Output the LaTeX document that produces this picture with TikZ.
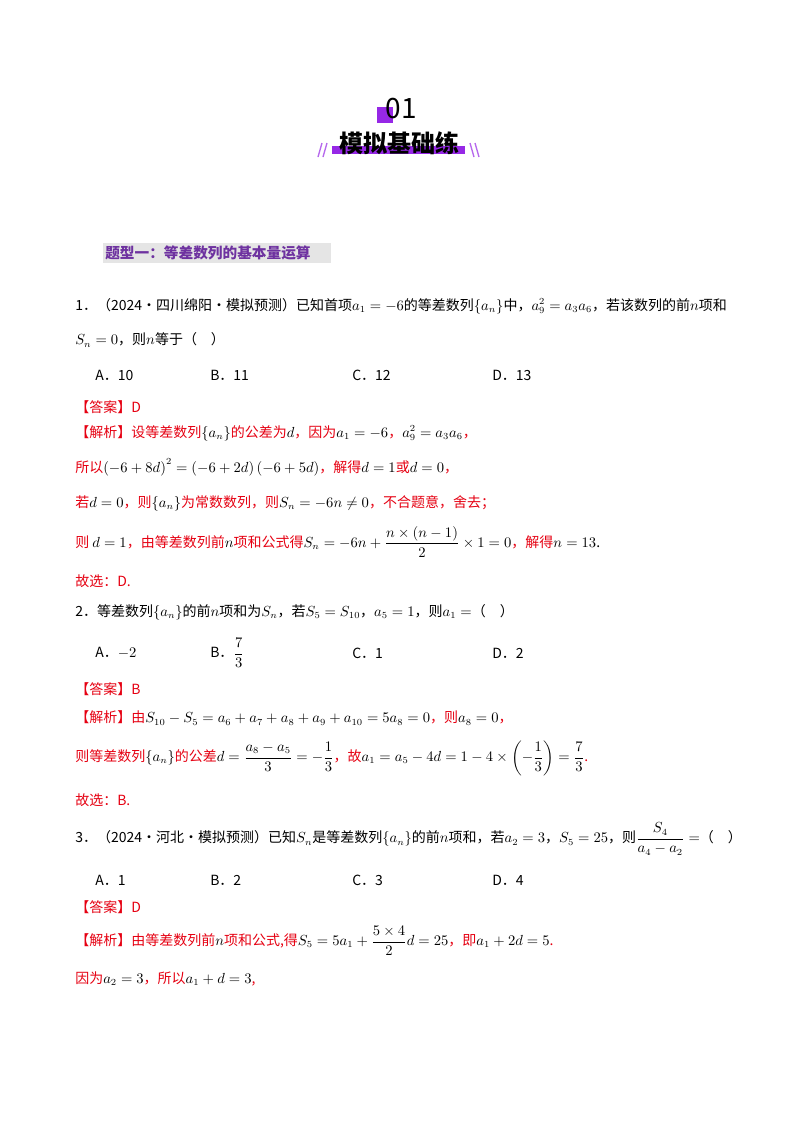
\documentclass[tikz,border=0pt]{standalone}
\usepackage{fontspec}
\usepackage{amsmath}
\setmainfont{Noto Sans CJK SC}
\definecolor{ansred}{RGB}{230,0,18}
\definecolor{vio}{RGB}{150,40,230}
\definecolor{hdvio}{RGB}{110,50,160}
\newcommand{\rd}[1]{\textcolor{ansred}{#1}}
\begin{document}
\begin{tikzpicture}[x=0.75pt,y=-0.75pt,
  txt/.style={anchor=west,inner sep=0pt,font=\fontsize{10.5}{12}\selectfont}]
\useasboundingbox[fill=white] (0,0) rectangle (800,1132);
% header
\fill[vio] (377,107) rectangle (393,123);
\node[inner sep=0pt,font=\fontsize{21}{24}\selectfont] (num) at (401,109) {01};
\fill[vio] (332,146) rectangle (465,154);
\node[inner sep=0pt,font=\fontsize{18}{20}\bfseries\selectfont] (title) at (399,143) {模拟基础练};
\draw[vio!70,line width=1pt] (318,157)--(322,143) (323,157)--(327,143) (470,143)--(474,157) (475,143)--(479,157);
% section
\fill[gray!20] (103,243) rectangle (331,263);
\node[txt,font=\fontsize{11}{12}\bfseries\selectfont,text=hdvio] (sec) at (105,253) {题型一：等差数列的基本量运算};
% Q1
\node[txt] (q1a) at (75,306) {1．（2024·四川绵阳·模拟预测）已知首项$a_1=-6$的等差数列$\left\{a_n\right\}$中，$a_9^2=a_3a_6$，若该数列的前$n$项和};
\node[txt] (q1b) at (75,340) {$S_n=0$，则$n$等于（\quad）};
\node[txt] (a1) at (95,375) {A．10};
\node[txt] (b1) at (210,375) {B．11};
\node[txt] (c1) at (352,375) {C．12};
\node[txt] (d1) at (492,375) {D．13};
\node[txt] (ans1) at (75,407) {\rd{【答案】D}};
\node[txt] (e1) at (75,433) {\rd{【解析】设等差数列}$\left\{a_n\right\}$\rd{的公差为}$d$\rd{，因为}$a_1=-6$\rd{，}$a_9^2=a_3a_6$\rd{，}};
\node[txt] (e2) at (75,467) {\rd{所以}$\left(-6+8d\right)^2=\left(-6+2d\right)\left(-6+5d\right)$\rd{，解得}$d=1$\rd{或}$d=0$\rd{，}};
\node[txt] (e3) at (75,503) {\rd{若}$d=0$\rd{，则}$\left\{a_n\right\}$\rd{为常数数列，则}$S_n=-6n\neq0$\rd{，不合题意，舍去；}};
\node[txt] (e4) at (75,542) {\rd{则}\ $d=1$\rd{，由等差数列前}$n$\rd{项和公式得}$S_n=-6n+\dfrac{n\times\left(n-1\right)}{2}\times1=0$\rd{，解得}$n=13$.};
\node[txt] (e5) at (75,581) {\rd{故选：D.}};
% Q2
\node[txt] (q2) at (75,612) {2．等差数列$\left\{a_n\right\}$的前$n$项和为$S_n$，若$S_5=S_{10}$，$a_5=1$，则$a_1=$（\quad）};
\node[txt] (a2) at (95,653) {A．$-2$};
\node[txt] (b2) at (210,653) {B．$\dfrac{7}{3}$};
\node[txt] (c2) at (352,653) {C．1};
\node[txt] (d2) at (492,653) {D．2};
\node[txt] (ans2) at (75,689) {\rd{【答案】B}};
\node[txt] (f1) at (75,718) {\rd{【解析】由}$S_{10}-S_5=a_6+a_7+a_8+a_9+a_{10}=5a_8=0$\rd{，则}$a_8=0$\rd{，}};
\node[txt] (f2) at (75,758) {\rd{则等差数列}$\left\{a_n\right\}$\rd{的公差}$d=\dfrac{a_8-a_5}{3}=-\dfrac{1}{3}$\rd{，故}$a_1=a_5-4d=1-4\times\left(-\dfrac{1}{3}\right)=\dfrac{7}{3}$\rd{.}};
\node[txt] (f3) at (75,800) {\rd{故选：B.}};
% Q3
\node[txt] (q3) at (75,839) {3．（2024·河北·模拟预测）已知$S_n$是等差数列$\left\{a_n\right\}$的前$n$项和，若$a_2=3$，$S_5=25$，则$\dfrac{S_4}{a_4-a_2}=$（\quad）};
\node[txt] (a3) at (95,880) {A．1};
\node[txt] (b3) at (210,880) {B．2};
\node[txt] (c3) at (352,880) {C．3};
\node[txt] (d3) at (492,880) {D．4};
\node[txt] (ans3) at (75,907) {\rd{【答案】D}};
\node[txt] (g1) at (75,941) {\rd{【解析】由等差数列前}$n$\rd{项和公式,得}$S_5=5a_1+\dfrac{5\times4}{2}d=25$\rd{，即}$a_1+2d=5$\rd{.}};
\node[txt] (g2) at (75,979) {\rd{因为}$a_2=3$\rd{，所以}$a_1+d=3$\rd{,}};
\end{tikzpicture}
\end{document}
